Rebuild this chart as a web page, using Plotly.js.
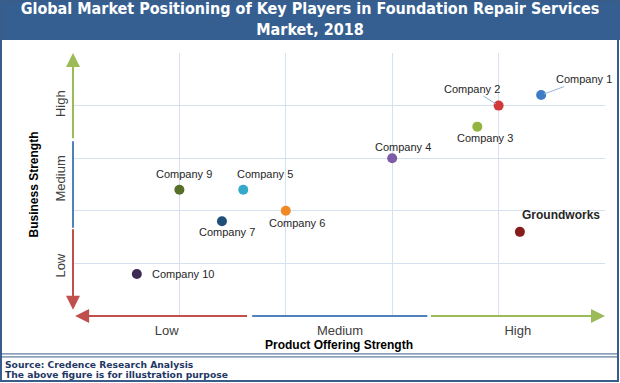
<!DOCTYPE html>
<html>
<head>
<meta charset="utf-8">
<script src="https://cdn.plot.ly/plotly-3.0.1.min.js"></script>
<style>html,body{margin:0;padding:0;background:#fff;}#chart{width:620px;height:383px;}</style>
</head>
<body>
<div id="chart"></div>
<script>
// ---- data ----
const companies = ['Company 1','Company 2','Company 3','Company 4','Company 5','Company 6','Company 7','Company 9','Company 10','Groundworks'];
const productStrength = [4.4, 4.0, 3.8, 3.0, 1.6, 2.0, 1.4, 1.0, 0.6, 4.2];
const businessStrength = [4.2, 4.0, 3.6, 3.0, 2.4, 2.0, 1.8, 2.4, 0.8, 1.6];
const levels = ['Low','Medium','High'];
const xLevelPos = [0.88, 2.51, 4.18];
const yLevelPos = [0.92, 2.58, 4.0];

// ---- styles ----
const markerColors = ['#3E7CC6','#D03A3A','#93B440','#7D5BA6','#35A9CC','#F08A24','#1F4E79','#56702A','#3D2B56','#861C1C'];
// label offsets in pixels [xshift, yshift]
const labelShift = [[43,16],[-27,17],[8,-11.5],[11,11],[22,15.5],[11,-12],[5,-11],[5,15.5],[46.5,0],[41,17]];
const leader = [true,true,false,false,false,false,false,false,false,false];

const L = 73, R = 605, T = 53, B = 316.5;
const px = v => (v - L) / (R - L);
const py = v => (B - v) / (B - T);

const trace = {
  type: 'scatter', mode: 'markers',
  x: productStrength, y: businessStrength, text: companies,
  marker: {size: 10, color: markerColors},
  hoverinfo: 'skip', cliponaxis: false
};

const annotations = [];
companies.forEach((c, i) => {
  const bold = c === 'Groundworks';
  const font = {family: 'Liberation Sans, Arial, sans-serif', size: bold ? 12 : 11, color: '#262626'};
  if (leader[i]) {
    annotations.push({x: productStrength[i], y: businessStrength[i], xref: 'x', yref: 'y',
      text: c, font: font, showarrow: true, arrowhead: 0, arrowwidth: 1, arrowcolor: '#95B3D7',
      ax: labelShift[i][0], ay: -labelShift[i][1], standoff: 3});
  } else {
    annotations.push({x: productStrength[i], y: businessStrength[i], xref: 'x', yref: 'y',
      text: bold ? '<b>' + c + '</b>' : c, font: font, showarrow: false,
      xshift: labelShift[i][0], yshift: labelShift[i][1]});
  }
});

// axis arrows (low=red, medium=blue, high=green)
function arrow(x, y, ax, ay, color, head) {
  annotations.push({x: x, y: y, ax: ax, ay: ay, xref: 'x', yref: 'y', axref: 'x', ayref: 'y',
    text: '', showarrow: true, arrowhead: head ? 2 : 0, arrowsize: 1.4, arrowwidth: 2,
    arrowcolor: color, standoff: 0});
}
arrow(0.02, 0, 1.65, 0, '#C0504D', true);
arrow(3.33, 0, 1.67, 0, '#4F81BD', false);
arrow(5.0, 0, 3.35, 0, '#9BBB59', true);
arrow(0, 0.12, 0, 1.68, '#C0504D', true);
arrow(0, 1.68, 0, 3.35, '#4F81BD', false);
arrow(0, 5.0, 0, 3.35, '#9BBB59', true);

// footer
const footFont = {family: 'DejaVu Sans, Verdana, sans-serif', size: 9.2, color: '#1F3864'};
annotations.push({xref: 'paper', yref: 'paper', x: px(3), y: py(365.5), xanchor: 'left', yanchor: 'middle',
  text: '<b>Source: Credence Research Analysis</b>', font: footFont, showarrow: false});
annotations.push({xref: 'paper', yref: 'paper', x: px(3), y: py(375.5), xanchor: 'left', yanchor: 'middle',
  text: '<b>The above figure is for illustration purpose</b>', font: footFont, showarrow: false});

const frame = '#385D8A';
const shapes = [
  {type: 'rect', xref: 'paper', yref: 'paper', x0: px(0), x1: px(620), y0: py(0), y1: py(40), fillcolor: '#365F91', line: {width: 0}, layer: 'below'},
  {type: 'rect', xref: 'paper', yref: 'paper', x0: px(1), x1: px(618), y0: py(1), y1: py(381.5), line: {color: frame, width: 2}, fillcolor: 'rgba(0,0,0,0)'},
  {type: 'line', xref: 'paper', yref: 'paper', x0: px(1), x1: px(618), y0: py(354.5), y1: py(354.5), line: {color: frame, width: 1}},
  {type: 'line', xref: 'paper', yref: 'paper', x0: px(1), x1: px(618), y0: py(357.5), y1: py(357.5), line: {color: frame, width: 1}}
];

const gridColor = '#D5E1EF';
const tickFont = {family: 'Liberation Sans, Arial, sans-serif', size: 13, color: '#404040'};
const layout = {
  width: 620, height: 383,
  margin: {l: L, r: 620 - R, t: T, b: 383 - B, autoexpand: false},
  paper_bgcolor: '#fff', plot_bgcolor: '#fff',
  showlegend: false,
  title: {text: '<b>Global Market Positioning of Key Players in Foundation Repair Services<br>Market, 2018</b>',
    font: {family: 'DejaVu Sans Condensed, DejaVu Sans, sans-serif', size: 16, color: '#fff'},
    x: 0.5, xref: 'container', y: 1 - 14 / 383, yref: 'container', yanchor: 'middle'},
  xaxis: {range: [0, 5], tickmode: 'array', tickvals: xLevelPos, ticktext: levels, showgrid: false,
    zeroline: false, showline: false, ticks: '', tickfont: tickFont, fixedrange: true, ticklabelstandoff: 5,
    minor: {tickmode: 'linear', tick0: 0, dtick: 1, showgrid: true, gridcolor: gridColor, gridwidth: 1},
    title: {text: '<b>Product Offering Strength</b>', font: {family: 'Liberation Sans, Arial, sans-serif', size: 12, color: '#000'}, standoff: 3}},
  yaxis: {range: [0, 5], tickmode: 'array', tickvals: yLevelPos, ticktext: levels, showgrid: false,
    zeroline: false, showline: false, ticks: '', tickfont: tickFont, tickangle: -90, fixedrange: true, ticklabelstandoff: 4,
    minor: {tickmode: 'linear', tick0: 0, dtick: 1, showgrid: true, gridcolor: gridColor, gridwidth: 1},
    title: {text: '<b>Business Strength</b>', font: {family: 'Liberation Sans, Arial, sans-serif', size: 12, color: '#000'}, standoff: 12}},
  annotations: annotations,
  shapes: shapes
};

Plotly.newPlot('chart', [trace], layout, {staticPlot: true, displayModeBar: false});
</script>
</body>
</html>
